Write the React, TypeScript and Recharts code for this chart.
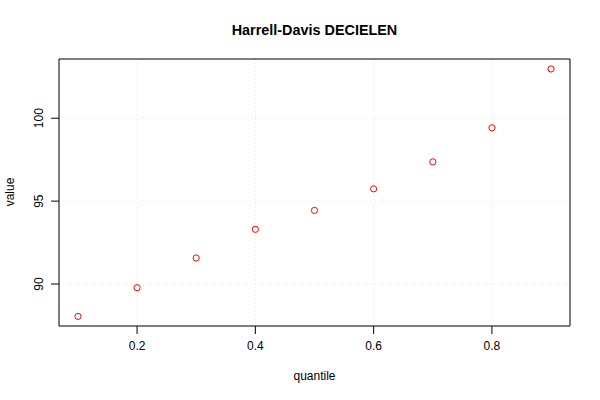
import React from 'react';
import { ScatterChart, Scatter, XAxis, YAxis, CartesianGrid, ReferenceArea, Customized } from 'recharts';

const quantiles = [0.1, 0.2, 0.3, 0.4, 0.5, 0.6, 0.7, 0.8, 0.9];
const values = [88.05, 89.78, 91.57, 93.3, 94.44, 95.74, 97.37, 99.42, 102.97];
const xTicks = [0.2, 0.4, 0.6, 0.8];
const yTicks = [90, 95, 100];
const xDomain: [number, number] = [0.068, 0.932];
const yDomain: [number, number] = [87.47, 103.57];

const title = 'Harrell-Davis DECIELEN';
const xLabel = 'quantile';
const yLabel = 'value';

const data = quantiles.map((q, i) => ({ q, v: values[i] }));
const FONT = '"Liberation Sans", Arial, Helvetica, sans-serif';

const XTick = (props: any) => {
  const { x, y, payload } = props;
  return (
    <text x={x} y={y + 14} textAnchor="middle" fontSize={12} fontFamily={FONT} fill="#000">
      {payload.value}
    </text>
  );
};

const YTick = (props: any) => {
  const { x, y, payload } = props;
  const bx = x - 6;
  return (
    <text x={bx} y={y} textAnchor="middle" fontSize={12} fontFamily={FONT} fill="#000"
      transform={`rotate(-90, ${bx}, ${y})`}>
      {payload.value}
    </text>
  );
};

const Labels = () => (
  <g>
    <text x={314.5} y={35} textAnchor="middle" fontSize={14.4} fontWeight="bold" fontFamily={FONT} fill="#000">{title}</text>
    <text x={314.5} y={380} textAnchor="middle" fontSize={12} fontFamily={FONT} fill="#000">{xLabel}</text>
    <text x={14} y={192} textAnchor="middle" fontSize={12} fontFamily={FONT} fill="#000"
      transform="rotate(-90, 14, 192)">{yLabel}</text>
  </g>
);

const Circle = (props: any) => {
  const { cx, cy } = props;
  return <circle cx={cx} cy={cy} r={3.1} fill="none" stroke="#ff0000" strokeWidth={1} />;
};

export default function App() {
  return (
    <div style={{ position: 'absolute', left: 0, top: 0, width: 600, height: 400, background: '#fff' }}>
      <ScatterChart width={600} height={400} margin={{ top: 59, right: 30, left: 0, bottom: 0 }}>
        <CartesianGrid stroke="#e6e6e6" strokeDasharray="1 3" />
        <XAxis type="number" dataKey="q" domain={xDomain} ticks={xTicks} allowDataOverflow
          height={74} tickSize={8} tickMargin={2} axisLine={false}
          tickLine={{ stroke: '#000' }} tick={<XTick />} interval={0} />
        <YAxis type="number" dataKey="v" domain={yDomain} ticks={yTicks} allowDataOverflow
          width={59} tickSize={8} tickMargin={2} axisLine={false}
          tickLine={{ stroke: '#000' }} tick={<YTick />} interval={0} />
        <ReferenceArea x1={xDomain[0]} x2={xDomain[1]} y1={yDomain[0]} y2={yDomain[1]}
          fill="none" stroke="#000" strokeWidth={1} fillOpacity={0} />
        <Scatter data={data} shape={<Circle />} isAnimationActive={false} />
        <Customized component={Labels} />
      </ScatterChart>
    </div>
  );
}
